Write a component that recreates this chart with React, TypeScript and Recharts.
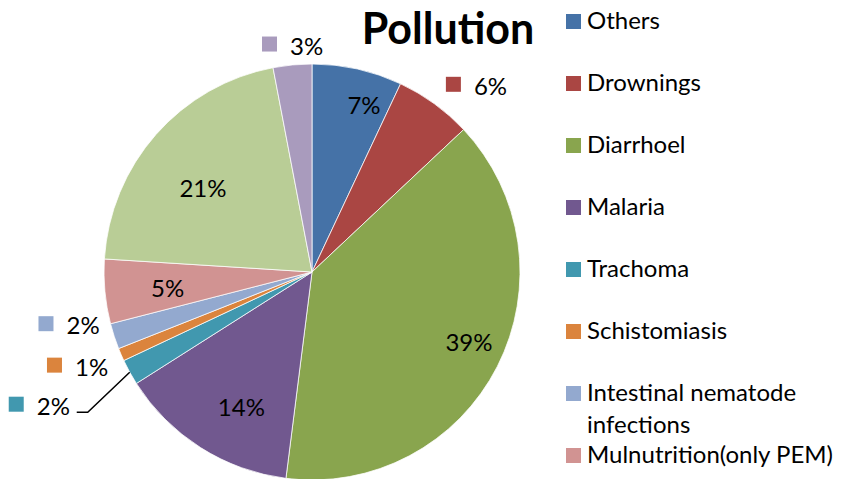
import { PieChart, Pie, Cell, Legend } from 'recharts';

// causes of death attributed to pollution (share of total, %)
const categories = [
  'Others',
  'Drownings',
  'Diarrhoel',
  'Malaria',
  'Trachoma',
  'Schistomiasis',
  'Intestinal nematode infections',
  'Mulnutrition(only PEM)',
  'Category 9',
  'Category 10',
];
const shares = [7, 6, 39, 14, 2, 1, 2, 5, 21, 3];
const colors = [
  '#4572A7', '#AA4643', '#89A54E', '#71588F', '#4198AF',
  '#DB843D', '#93A9CF', '#D19392', '#B9CD96', '#A99BBD',
];
// the original legend is cut off after 8 entries
const legendCount = 8;

const data = categories.map((name, i) => ({ name, value: shares[i] }));

// where Excel put each data label
const placement = ['inside', 'outside', 'inside', 'inside', 'leader', 'outside', 'outside', 'inside', 'inside', 'outside'];
// small manual nudges (dx, dy) to follow the original label spots
const nudge: [number, number][] = [
  [18, -15], [15, 0], [18, -1], [13, 3], [0, 0],
  [0, 1], [0, -20], [11, 1], [8, 19], [5, 3],
];

const FONT = 'Lato, "Open Sans", sans-serif';
const RAD = Math.PI / 180;

const renderLabel = (props: any) => {
  const { cx, cy, midAngle, outerRadius, percent, index } = props;
  const text = `${Math.round(percent * 100)}%`;
  const sx = Math.cos(midAngle * RAD);
  const sy = Math.sin(midAngle * RAD);
  const [nx, ny] = nudge[index];
  const mode = placement[index];

  if (mode === 'inside') {
    const r = outerRadius * 0.75;
    return (
      <text
        x={cx + r * sx + nx}
        y={cy - r * sy + ny}
        textAnchor="middle"
        dominantBaseline="central"
        fontFamily={FONT}
        fontSize={24}
        fill="#000"
      >
        {text}
      </text>
    );
  }

  let lx: number;
  let ly: number;
  let line = null;
  if (mode === 'outside') {
    const r = outerRadius + 16;
    lx = cx + r * sx + sx * 31 + nx;
    ly = cy - r * sy - sy * 8 + ny;
  } else {
    const x0 = cx + outerRadius * sx;
    const y0 = cy - outerRadius * sy;
    const x1 = x0 - 42;
    const y1 = y0 + 40;
    const x2 = x1 - 11;
    line = <polyline points={`${x0},${y0} ${x1},${y1} ${x2},${y1}`} fill="none" stroke="#000" strokeWidth={1.5} />;
    lx = x2 - 37;
    ly = y1 - 8;
  }
  return (
    <g>
      {line}
      <rect x={lx - 31} y={ly - 7.5} width={15} height={15} fill={colors[index]} />
      <text x={lx - 3} y={ly + 1} textAnchor="start" dominantBaseline="central" fontFamily={FONT} fontSize={24} fill="#000">
        {text}
      </text>
    </g>
  );
};

const renderLegend = () => (
  <div style={{ position: 'relative', fontFamily: FONT, fontSize: 24, color: '#000' }}>
    {categories.slice(0, legendCount).map((name, i) => (
      <div key={name} style={{ position: 'absolute', top: 4 + i * 62, left: 0, width: 277, display: 'flex' }}>
        <span style={{ width: 15, height: 15, background: colors[i], marginTop: 10, flex: 'none' }} />
        <span style={{ marginLeft: 6, lineHeight: '32px', width: 256, whiteSpace: 'normal' }}>{name}</span>
      </div>
    ))}
  </div>
);

export default function App() {
  return (
    <div style={{ position: 'fixed', left: 0, top: 0, width: 843, height: 479, background: '#fff', overflow: 'hidden' }}>
      <PieChart width={843} height={479} margin={{ top: 0, right: 0, bottom: 0, left: 0 }}>
        <Pie
          data={data}
          dataKey="value"
          nameKey="name"
          cx={312}
          cy={272}
          outerRadius={208}
          startAngle={90}
          endAngle={-270}
          stroke="#fff"
          strokeWidth={0.75}
          label={renderLabel}
          labelLine={false}
          isAnimationActive={false}
        >
          {data.map((d, i) => (
            <Cell key={d.name} fill={colors[i]} />
          ))}
        </Pie>
        <Legend content={renderLegend} wrapperStyle={{ position: 'absolute', left: 566, top: 0, width: 277, height: 479 }} />
      </PieChart>
      <div
        style={{
          position: 'absolute',
          left: 338,
          top: 4,
          width: 220,
          textAlign: 'center',
          fontFamily: FONT,
          fontWeight: 700,
          fontSize: 43,
          lineHeight: '48px',
          color: '#000',
        }}
      >
        Pollution
      </div>
    </div>
  );
}
